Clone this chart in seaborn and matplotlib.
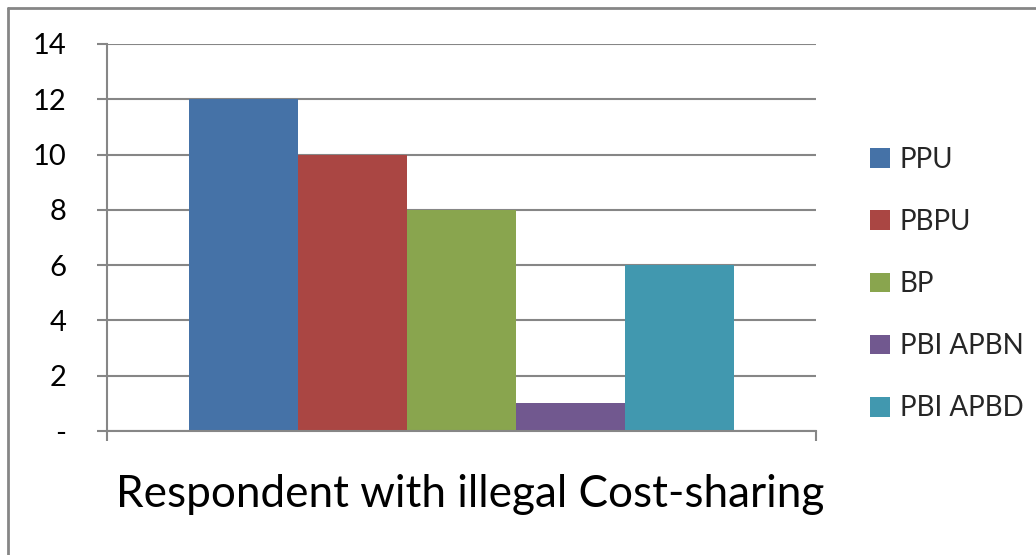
import matplotlib
matplotlib.use("Agg")
import matplotlib.pyplot as plt
from matplotlib.lines import Line2D
from matplotlib.transforms import ScaledTranslation
import seaborn as sns
import pandas as pd

# Data
category = "Respondent with illegal Cost-sharing"
series = ["PPU", "PBPU", "BP", "PBI APBN", "PBI APBD"]
values = [12, 10, 8, 1, 6]
colors = ["#4572A7", "#AA4643", "#89A54E", "#71588F", "#4198AF"]
y_ticks = [0, 2, 4, 6, 8, 10, 12, 14]
y_tick_labels = ["-", "2", "4", "6", "8", "10", "12", "14"]

df = pd.DataFrame({"category": [category] * len(series),
                   "series": series,
                   "value": values})

sns.set_theme(style="white")
plt.rcParams["font.family"] = ["Lato", "DejaVu Sans"]

grey = "#868686"
fig = plt.figure(figsize=(10.36, 5.55), dpi=100)
ax = fig.add_axes([107 / 1036, 1 - 431 / 555, (816 - 107) / 1036, (431 - 44) / 555])

sns.barplot(data=df, x="category", y="value", hue="series",
            hue_order=series, palette=colors, saturation=1,
            width=0.77, gap=0, linewidth=0, ax=ax, legend=True)

ax.set_xlim(-0.5, 0.5)
ax.set_ylim(0, 14)
ax.set_yticks(y_ticks)
ax.set_yticklabels(y_tick_labels)
ax.yaxis.grid(True, color=grey, linewidth=1.5)
ax.set_axisbelow(True)

for side in ["top", "right"]:
    ax.spines[side].set_visible(False)
for side in ["left", "bottom"]:
    ax.spines[side].set_color(grey)
    ax.spines[side].set_linewidth(1.5)

ax.tick_params(axis="y", direction="out", length=7.2, width=1.5,
               color=grey, pad=22, labelsize=21, labelcolor="black", left=True)
ax.set_xticks([-0.5, 0.5], minor=True)
ax.tick_params(axis="x", which="minor", direction="out", length=7.2,
               width=1.5, color=grey, bottom=True)
ax.tick_params(axis="x", which="major", length=0, pad=31, labelsize=31.8,
               labelcolor="black")
# nudge the category label slightly to the right
for lbl in ax.get_xticklabels():
    lbl.set_transform(lbl.get_transform()
                      + ScaledTranslation(0.09, 0, fig.dpi_scale_trans))
ax.set_xlabel("")
ax.set_ylabel("")

handles, labels = ax.get_legend_handles_labels()
ax.legend(handles, labels, loc="center left", bbox_to_anchor=(0.829, 0.488),
          bbox_transform=fig.transFigure, frameon=False, fontsize=20,
          handlelength=0.72, handleheight=0.72, handletextpad=0.36,
          labelspacing=1.3, borderaxespad=0)

# Chart area border (top and left edges)
fig.add_artist(Line2D([8 / 1036, 1.0], [1 - 8 / 555, 1 - 8 / 555],
                      transform=fig.transFigure, color=grey, linewidth=2))
fig.add_artist(Line2D([8 / 1036, 8 / 1036], [0.0, 1 - 8 / 555],
                      transform=fig.transFigure, color=grey, linewidth=2))

fig.savefig("out.png", dpi=100)
